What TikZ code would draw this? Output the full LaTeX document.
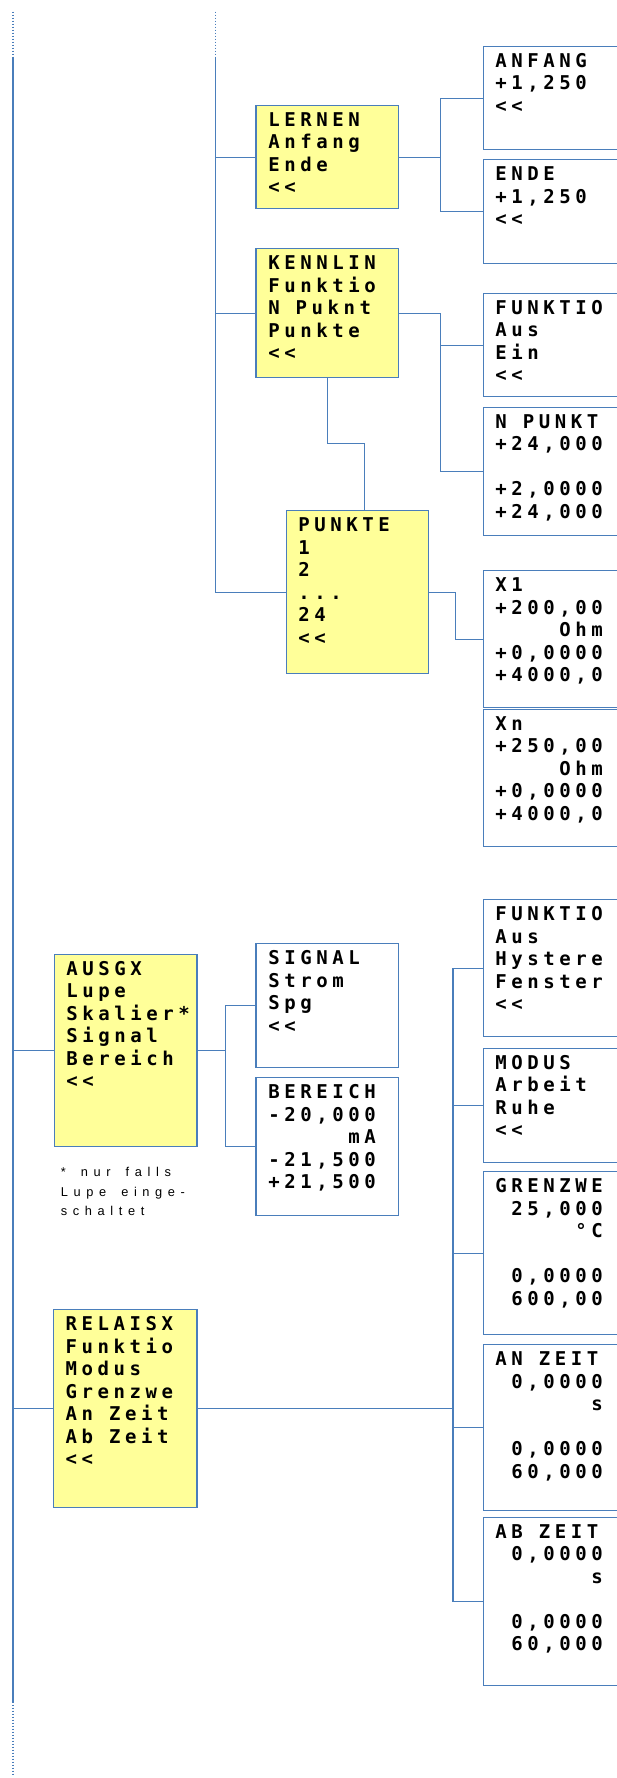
\documentclass[tikz,border=0pt]{standalone}
\usepackage{fontspec}
\newfontfamily\boxfont{DejaVu Sans Mono}[LetterSpace=24]
\newfontfamily\notefont{Liberation Sans}[LetterSpace=44]
\definecolor{ln}{HTML}{4A7EBB}
\definecolor{yl}{HTML}{FFFF99}
\tikzset{
  boxbase/.style={draw=ln, line width=1.1pt, inner sep=0pt, anchor=north west},
  ybox/.style={boxbase, fill=yl},
  wbox/.style={boxbase, fill=white},
  txt/.style={anchor=north west, inner sep=0pt, align=left, font=\boxfont\bfseries\fontsize{19}{22.5}\selectfont},
  note/.style={anchor=north west, inner sep=0pt, align=left, font=\notefont\fontsize{12.8}{19.5}\selectfont},
  conn/.style={draw=ln, line width=1.1pt},
  dotline/.style={draw=ln, line width=1.1pt, dash pattern=on 1.5pt off 1.5pt},
}
\newcommand\mkbox[7]{%
  \node[#2, minimum width={#5pt-#3pt}, minimum height={#6pt-#4pt}] (#1) at (#3,#4) {};
  \node[txt] (#1t) at ([xshift=12.7pt,yshift=-6.3pt]#1.north west) {\rule{0pt}{15pt}#7};
}
\newcommand\ra[1]{\phantom{0000000}\llap{#1}}
\newcommand\nsp{\hspace{15pt}}
\begin{document}
\begin{tikzpicture}[x=1pt,y=-1pt]
\useasboundingbox (0,0) rectangle (617,1778);
\clip (0,0) rectangle (617,1778);
% middle column
\mkbox{lernen}{ybox}{255.4}{104.7}{398.3}{208.3}{LERNEN\\Anfang\\Ende\\<{}<}
\mkbox{kennlin}{ybox}{255.4}{248.3}{398.3}{376.7}{KENNLIN\\Funktio\\N Puknt\\Punkte\\<{}<}
\mkbox{punkte}{ybox}{285.5}{510}{428.1}{673}{PUNKTE\\1\\2\\...\\24\\<{}<}
\mkbox{signal}{wbox}{255.4}{943.3}{398.3}{1067.3}{SIGNAL\\Strom\\Spg\\<{}<}
\mkbox{bereich}{wbox}{255.4}{1077}{398.3}{1215}{BEREICH\\-20,000\\\ra{mA}\\-21,500\\+21,500}
% left column
\mkbox{ausgx}{ybox}{53.5}{953.7}{196.4}{1145.7}{AUSGX\\Lupe\\Skalier*\\Signal\\Bereich\\<{}<}
\mkbox{relaisx}{ybox}{52.8}{1309}{196.4}{1506.7}{RELAISX\\Funktio\\Modus\\Grenzwe\\An Zeit\\Ab Zeit\\<{}<}
% right column
\mkbox{anfang}{wbox}{482.5}{45.7}{640}{149.3}{ANFANG\\+1,250\\<{}<}
\mkbox{ende}{wbox}{482.5}{159.3}{640}{263}{ENDE\\+1,250\\<{}<}
\mkbox{funktio}{wbox}{482.5}{292.7}{640}{396.3}{FUNKTIO\\Aus\\Ein\\<{}<}
\mkbox{npunkt}{wbox}{482.5}{406.7}{640}{534.7}{N PUNKT\\+24,000\\\mbox{}\\+2,0000\\+24,000}
\mkbox{xa}{wbox}{482.5}{570}{640}{707.3}{X1\\+200,00\\\ra{Ohm}\\+0,0000\\+4000,0}
\mkbox{xn}{wbox}{482.5}{708.5}{640}{846}{Xn\\+250,00\\\ra{Ohm}\\+0,0000\\+4000,0}
\mkbox{funktiob}{wbox}{482.5}{899}{640}{1036.3}{FUNKTIO\\Aus\\Hystere\\Fenster\\<{}<}
\mkbox{modus}{wbox}{482.5}{1047.7}{640}{1161.7}{MODUS\\Arbeit\\Ruhe\\<{}<}
\mkbox{grenzwe}{wbox}{482.5}{1171.3}{640}{1334.3}{GRENZWE\\\ra{25,000}\\\ra{°C}\\\mbox{}\\\ra{0,0000}\\\ra{600,00}}
\mkbox{anzeit}{wbox}{482.5}{1344}{640}{1510}{AN ZEIT\\\ra{0,0000}\\\ra{s}\\\mbox{}\\\ra{0,0000}\\\ra{60,000}}
\mkbox{abzeit}{wbox}{482.5}{1516.7}{640}{1684.7}{AB ZEIT\\\ra{0,0000}\\\ra{s}\\\mbox{}\\\ra{0,0000}\\\ra{60,000}}
% footnote
\node[note] (fn) at (60.7,1165.7) {\rule{0pt}{11pt}*\nsp nur\nsp falls\\Lupe\nsp einge-\\schaltet};
% bus lines
\coordinate (b1a) at (13,11.7);
\coordinate (b1b) at (13,58.3);
\coordinate (b1c) at (13,1701.7);
\coordinate (b1d) at (13,1776.7);
\draw[dotline] (b1a) -- (b1b);
\draw[conn] (b1b) -- (b1c);
\draw[dotline] (b1c) -- (b1d);
\draw[conn] (b1b |- ausgx.west) -- (ausgx.west);
\draw[conn] (b1b |- relaisx.west) -- (relaisx.west);
\coordinate (b2a) at (215.7,11.7);
\coordinate (b2b) at (215.7,58.3);
\draw[dotline] (b2a) -- (b2b);
\draw[conn] (b2b) |- (punkte.west);
\draw[conn] (b2b |- lernen.west) -- (lernen.west);
\draw[conn] (b2b |- kennlin.west) -- (kennlin.west);
% junctions
\coordinate (j1) at (440.4,0);
\draw[conn] (lernen.east) -- (lernen.east -| j1);
\draw[conn] (anfang.west) -| (j1 |- ende.west) -- (ende.west);
\draw[conn] (kennlin.east) -| (j1 |- npunkt.west) -- (npunkt.west);
\draw[conn] (funktio.west -| j1) -- (funktio.west);
\coordinate (k1) at (364.8,443.3);
\draw[conn] (kennlin.south) |- (k1) -- (k1 |- punkte.north);
\coordinate (j2) at (455.3,0);
\draw[conn] (punkte.east) -| (j2 |- xa.west) -- (xa.west);
\coordinate (j3) at (225.9,0);
\draw[conn] (ausgx.east) -- (ausgx.east -| j3);
\draw[conn] (signal.west) -| (j3 |- bereich.west) -- (bereich.west);
\coordinate (j4) at (453,0);
\draw[conn, line width=1.6pt] (relaisx.east) -- (relaisx.east -| j4);
\draw[conn] (funktiob.west) -| (j4 |- abzeit.west) -- (abzeit.west);
\draw[conn] (modus.west -| j4) -- (modus.west);
\draw[conn] (grenzwe.west -| j4) -- (grenzwe.west);
\draw[conn] (anzeit.west -| j4) -- (anzeit.west);
\end{tikzpicture}
\end{document}
